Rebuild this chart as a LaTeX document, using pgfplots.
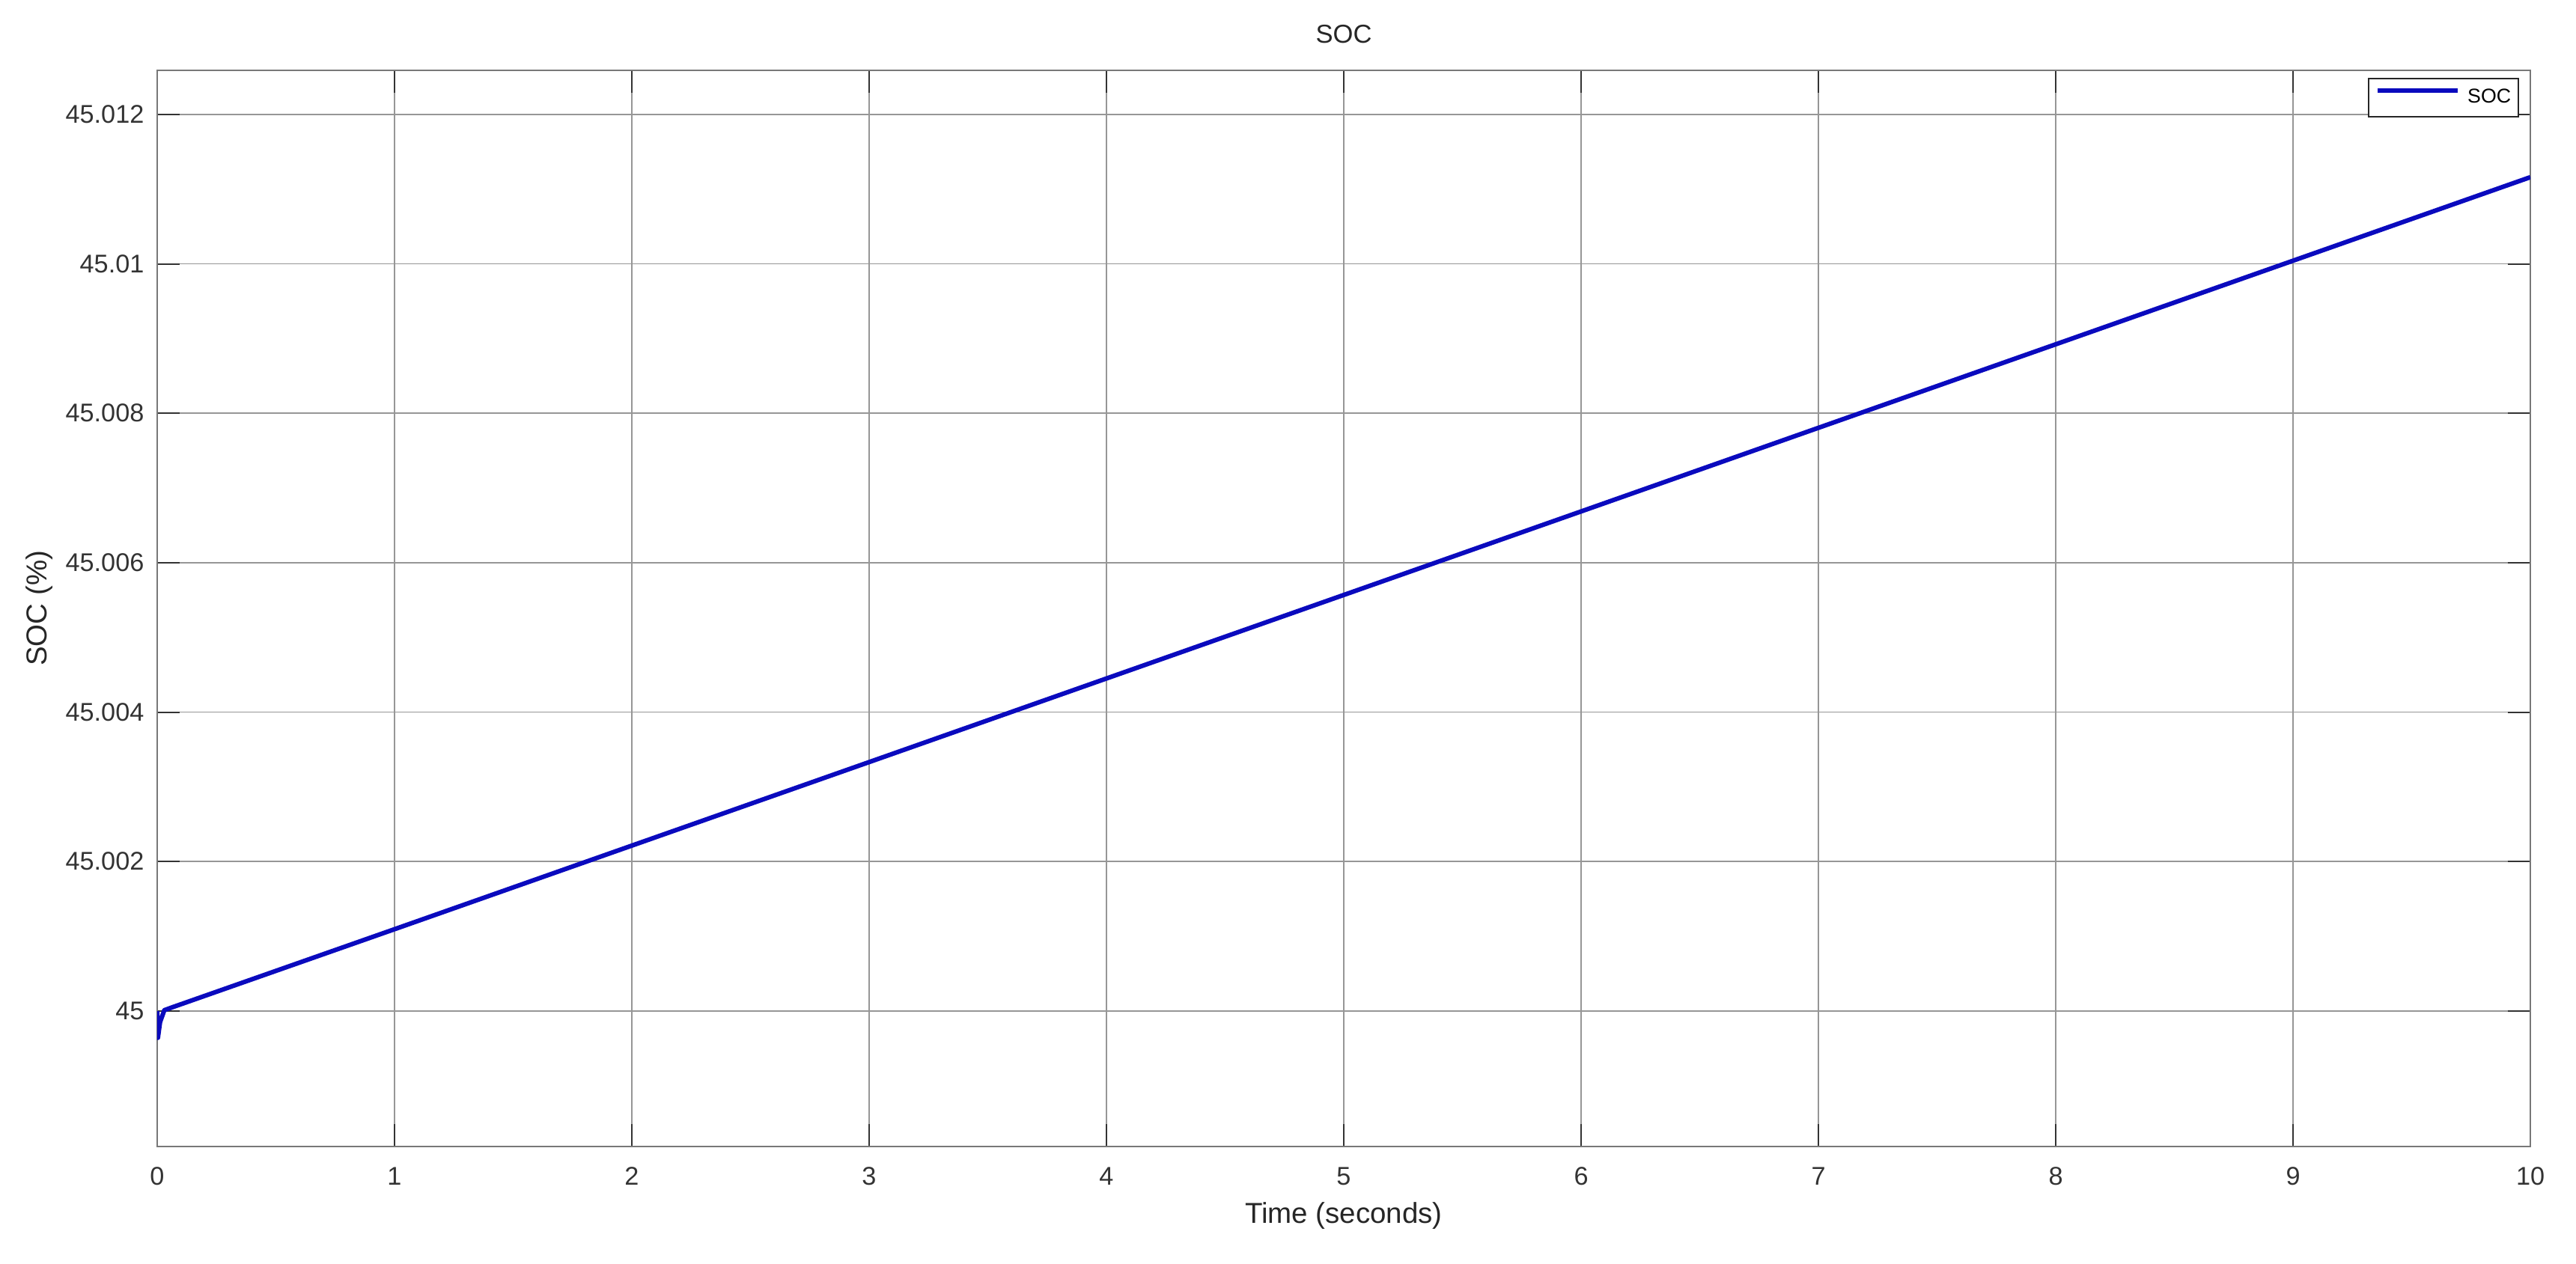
\documentclass[border=0pt]{standalone}
\usepackage{fontspec}
\setmainfont{Liberation Sans}
\usepackage{pgfplots}
\pgfplotsset{compat=1.18}
\usepackage{pgfplotstable}
\definecolor{socblue}{RGB}{10,10,190}
\definecolor{axisgray}{RGB}{120,120,120}
\definecolor{gridgray}{RGB}{150,150,150}
% SOC; dsoc = (SOC - 45) * 1000, i.e. SOC = 45 + dsoc/1000 (%)
\pgfplotstableread{
t      dsoc
0      0.000
0.003  -0.360
0.012  -0.150
0.03   0.010
0.06   0.045
1      1.094
2      2.213
3      3.331
4      4.450
5      5.568
6      6.686
7      7.805
8      8.923
9      10.042
10     11.160
}\socdata

\begin{document}
\begin{tikzpicture}
\begin{axis}[
  name=main,
  scale only axis,
  width=972.2pt, height=441.0pt,
  xmin=0, xmax=10,
  ymin=-1.813, ymax=12.591,
  xtick={0,1,2,3,4,5,6,7,8,9,10},
  xticklabels={0,1,2,3,4,5,6,7,8,9,10},
  ytick={0,2,4,6,8,10,12},
  yticklabels={45,45.002,45.004,45.006,45.008,45.01,45.012},
  /pgf/number format/assume math mode=true,
  axis line style={axisgray, line width=0.8pt},
  grid=major,
  major grid style={gridgray, line width=0.55pt},
  major tick length=9.2pt,
  tick style={black!80, line width=0.6pt},
  tick label style={font=\fontsize{10.5}{12}\selectfont, text=black!80},
  xticklabel style={anchor=base, yshift=-15.8pt},
  yticklabel style={anchor=east, inner xsep=0pt, xshift=-5.2pt},
  xlabel={Time (seconds)},
  ylabel={SOC (\%)},
  label style={font=\fontsize{11.8}{14}\selectfont, text=black!85},
  xlabel style={at={(axis description cs:0.5,-0.06467)}, anchor=center},
  ylabel style={at={(axis description cs:-0.04953,0.5)}, anchor=center},
  title={SOC},
  title style={at={(axis description cs:0.5,1.02017)}, anchor=center, font=\fontsize{10.6}{12}\selectfont, text=black!85},
  legend style={at={(axis description cs:0.99527,0.99305)}, anchor=north east,
    draw=black!85, line width=0.7pt, fill=white,
    font=\fontsize{8.2}{9.8}\selectfont,
    inner xsep=3pt, inner ysep=4pt, column sep=3pt,
    nodes={inner sep=0pt}},
  legend image code/.code={\draw[#1, line width=1.85pt] (0pt,0.3em) -- (32.8pt,0.3em);},
]
\addplot[socblue, line width=1.85pt, line join=round] table[x=t, y=dsoc] {\socdata};
\addlegendentry{SOC}
\end{axis}
\pgfresetboundingbox
\path (main.south west) ++(-64.4pt,-48.15pt) rectangle ([shift={(18.7pt,28.8pt)}]main.north east);
\end{tikzpicture}
\end{document}
